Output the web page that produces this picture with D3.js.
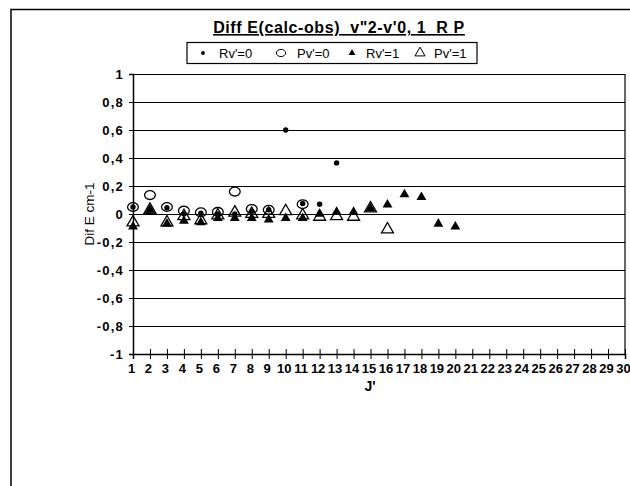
<!DOCTYPE html>
<html>
<head>
<meta charset="utf-8">
<script src="https://cdn.jsdelivr.net/npm/d3@7"></script>
<style>
  html, body { margin: 0; padding: 0; background: #fff; }
  svg { display: block; }
  text { font-family: Arial, "Liberation Sans", sans-serif; fill: #000; }
</style>
</head>
<body>
<div id="chart"></div>
<script>
// J' values and the four series
const xTicks = d3.range(1, 31);
const yTicks = [-1, -0.8, -0.6, -0.4, -0.2, 0, 0.2, 0.4, 0.6, 0.8, 1];

const rv0J = [1, 2, 3, 4, 5, 6, 7, 8, 9, 10, 11, 12, 13];
const rv0  = [0.05, 0.03, 0.045, 0.0, 0.005, 0.0, 0.0, 0.02, 0.03, 0.6, 0.075, 0.07, 0.365];

const pv0J = [1, 2, 3, 4, 5, 6, 7, 8, 9, 11];
const pv0  = [0.05, 0.135, 0.05, 0.024, 0.012, 0.015, 0.16, 0.036, 0.03, 0.07];

const rv1J = [1, 2, 3, 4, 5, 6, 7, 8, 9, 10, 11, 12, 13, 14, 15, 16, 17, 18, 19, 20];
const rv1  = [-0.09, 0.03, -0.07, -0.05, -0.06, -0.03, -0.03, -0.03, -0.04, -0.03,
              -0.03, 0.0, 0.015, 0.015, 0.04, 0.066, 0.14, 0.12, -0.07, -0.09];

const pv1J = [1, 2, 3, 4, 5, 6, 7, 8, 9, 10, 11, 12, 13, 14, 15, 16];
const pv1  = [-0.06, 0.03, -0.06, -0.015, -0.045, -0.01, 0.01, 0.0, 0.0, 0.02,
              -0.01, -0.02, -0.015, -0.02, 0.04, -0.11];

const W = 630, H = 486;
const svg = d3.select('#chart').append('svg')
  .attr('width', W).attr('height', H)
  .attr('viewBox', `0 0 ${W} ${H}`);

// outer chart frame (runs off the right and bottom of the scan)
svg.append('path')
  .attr('d', `M 11 ${H + 2} L 11 9.5 L ${W + 2} 9.5`)
  .attr('fill', 'none').attr('stroke', '#000').attr('stroke-width', 1.5);

const x = d3.scaleLinear().domain([1, 30]).range([133, 625]);
const y = d3.scaleLinear().domain([-1, 1]).range([354, 74]);
const fmt = d => String(d).replace('.', ',');

// horizontal grid
svg.append('g')
  .attr('transform', `translate(${x(1)},0)`)
  .call(d3.axisLeft(y).tickValues(yTicks).tickSize(-(x(30) - x(1))).tickFormat(''))
  .call(g => g.select('.domain').remove())
  .call(g => g.selectAll('line').attr('stroke', '#000').attr('stroke-width', 1));

// right edge of plot area
svg.append('line')
  .attr('x1', x(30)).attr('x2', x(30)).attr('y1', y(1)).attr('y2', y(-1))
  .attr('stroke', '#000').attr('stroke-width', 1.2);

// y axis
svg.append('g')
  .attr('transform', `translate(${x(1)},0)`)
  .call(d3.axisLeft(y).tickValues(yTicks).tickSize(4).tickPadding(5).tickFormat(fmt))
  .call(g => g.select('.domain').attr('stroke', '#000').attr('stroke-width', 1.5))
  .call(g => g.selectAll('text')
    .attr('font-size', 13).attr('font-weight', 'bold')
    .attr('letter-spacing', 1.2)
    .attr('font-family', 'Arial, "Liberation Sans", sans-serif'));

// x axis, ticks crossing the line
svg.append('g')
  .attr('transform', `translate(0,${y(-1)})`)
  .call(d3.axisBottom(x).tickValues(xTicks).tickSize(5).tickPadding(5).tickFormat(d3.format('d')))
  .call(g => g.select('.domain').attr('stroke', '#000').attr('stroke-width', 1.5))
  .call(g => g.selectAll('.tick line').attr('y1', -5).attr('stroke', '#000'))
  .call(g => g.selectAll('text')
    .attr('x', -2)
    .attr('font-size', 13).attr('font-weight', 'bold')
    .attr('font-family', '"Liberation Sans Narrow", "Arial Narrow", Arial, sans-serif'));

// axis titles
svg.append('text')
  .attr('transform', `translate(89,${y(0)}) rotate(-90)`)
  .attr('text-anchor', 'middle').attr('dy', '0.35em')
  .attr('font-size', 13.5)
  .text('Dif E cm-1');

svg.append('text')
  .attr('x', 370).attr('y', 391)
  .attr('text-anchor', 'middle')
  .attr('font-size', 14).attr('font-weight', 'bold')
  .text("J'");

// title
svg.append('text')
  .attr('x', 339).attr('y', 33)
  .attr('text-anchor', 'middle')
  .attr('font-size', 16).attr('font-weight', 'bold')
  .attr('letter-spacing', 0.6)
  .attr('text-decoration', 'underline')
  .style('white-space', 'pre')
  .text('Diff E(calc-obs)  v"2-v\'0, 1  R P');

// markers
const tri = (size) => d3.symbol(d3.symbolTriangle, size)();
const plot = svg.append('g');

plot.selectAll('.rv0').data(rv0J.map((j, i) => [j, rv0[i]])).join('circle')
  .attr('cx', d => x(d[0])).attr('cy', d => y(d[1])).attr('r', 2.7)
  .attr('fill', '#000');

plot.selectAll('.pv0').data(pv0J.map((j, i) => [j, pv0[i]])).join('ellipse')
  .attr('cx', d => x(d[0])).attr('cy', d => y(d[1])).attr('rx', 5.4).attr('ry', 4.4)
  .attr('fill', 'none').attr('stroke', '#000').attr('stroke-width', 1.3);

plot.selectAll('.rv1').data(rv1J.map((j, i) => [j, rv1[i]])).join('path')
  .attr('transform', d => `translate(${x(d[0])},${y(d[1])})`)
  .attr('d', tri(42)).attr('fill', '#000');

plot.selectAll('.pv1').data(pv1J.map((j, i) => [j, pv1[i]])).join('path')
  .attr('transform', d => `translate(${x(d[0])},${y(d[1])})`)
  .attr('d', tri(62)).attr('fill', 'none').attr('stroke', '#000').attr('stroke-width', 1.3);

// legend
const lg = svg.append('g');
lg.append('rect').attr('x', 187).attr('y', 42.5).attr('width', 290).attr('height', 21)
  .attr('fill', '#fff').attr('stroke', '#000').attr('stroke-width', 1.2);
const ly = 53;
lg.append('circle').attr('cx', 203).attr('cy', ly).attr('r', 1.9).attr('fill', '#000');
lg.append('ellipse').attr('cx', 281).attr('cy', ly).attr('rx', 4.6).attr('ry', 3.6)
  .attr('fill', 'none').attr('stroke', '#000').attr('stroke-width', 1);
lg.append('path').attr('transform', `translate(352,${ly})`).attr('d', tri(20)).attr('fill', '#000');
lg.append('path').attr('transform', `translate(420,${ly})`).attr('d', tri(44))
  .attr('fill', 'none').attr('stroke', '#000').attr('stroke-width', 1);
[["Rv'=0", 219], ["Pv'=0", 297], ["Rv'=1", 366], ["Pv'=1", 434]].forEach(([t, lx]) => {
  lg.append('text').attr('x', lx).attr('y', ly).attr('dy', '0.36em')
    .attr('font-size', 13).text(t);
});
</script>
</body>
</html>
